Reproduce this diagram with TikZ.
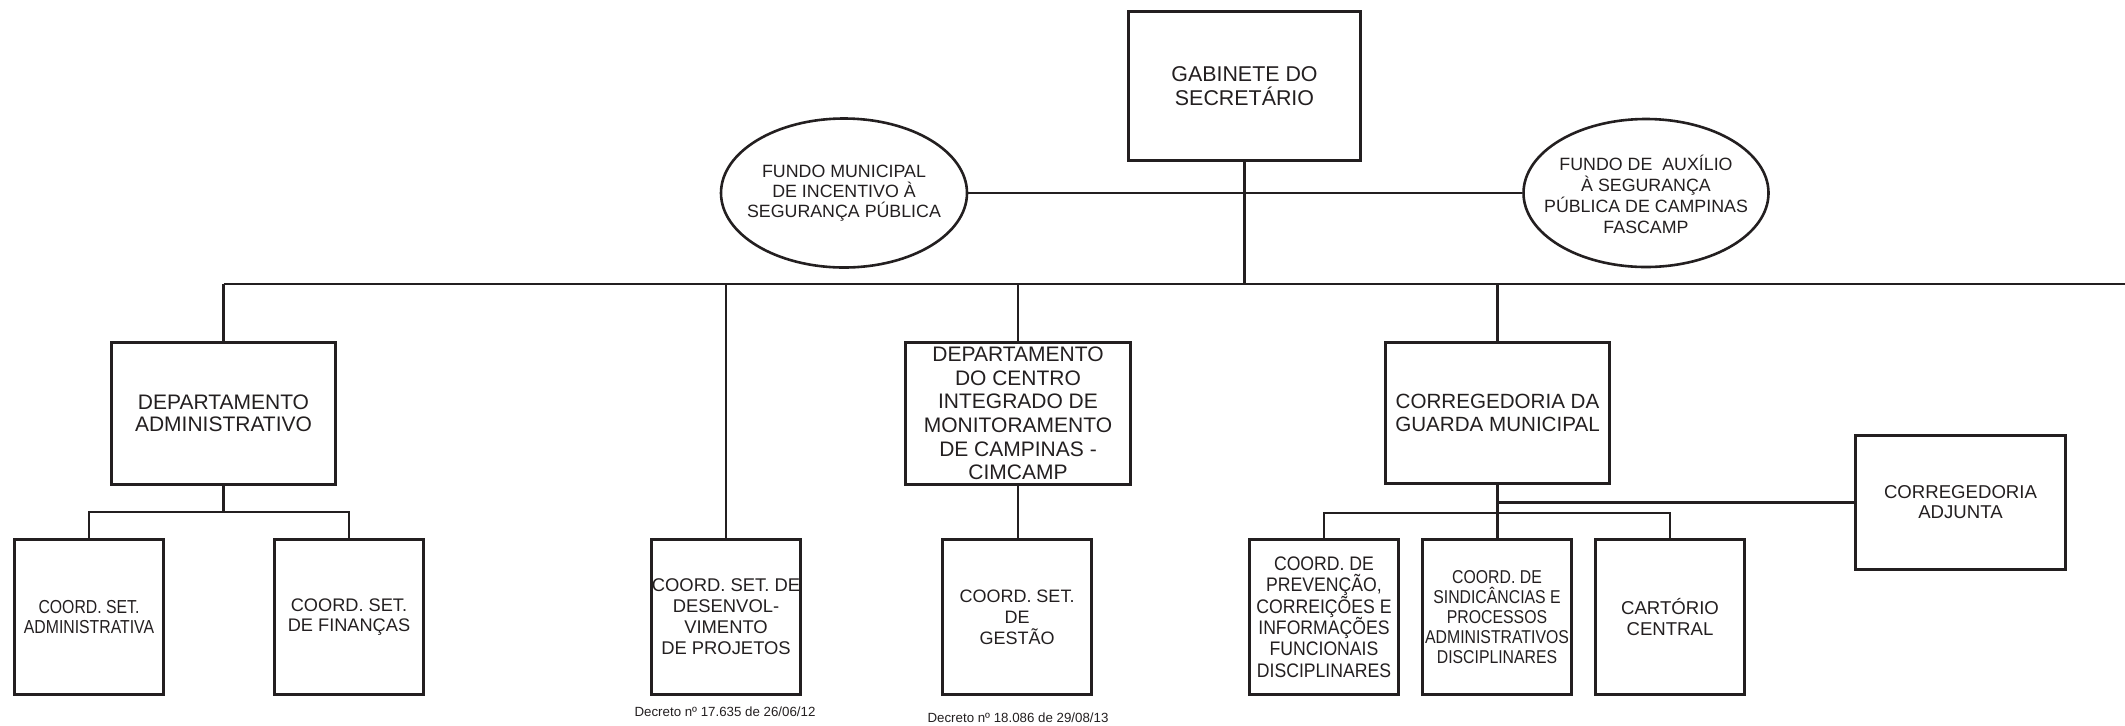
\documentclass[tikz,border=0pt]{standalone}
\usepackage{fontspec}
\setmainfont{Liberation Sans}
\newfontfamily\nfA[FakeStretch=0.84]{Liberation Sans}
\newfontfamily\nfB[FakeStretch=0.9]{Liberation Sans}
\newfontfamily\nfC[FakeStretch=0.85]{Liberation Sans}
\usetikzlibrary{shapes.geometric}
\definecolor{ink}{HTML}{231F20}
\begin{document}
\begin{tikzpicture}[x=0.5pt,y=-0.5pt,
  box/.style={draw=ink,line width=1.4pt,inner sep=0pt,align=center,text=ink},
  bot/.style={minimum width=74.5pt,minimum height=77.5pt},
  oval/.style={ellipse,draw=ink,line width=1.3pt,inner sep=0pt},
  otext/.style={align=center,text=ink,inner sep=0pt},
  link/.style={draw=ink,line width=1.2pt},
  note/.style={text=ink,inner sep=0pt,font=\fontsize{6.65}{8}\selectfont}]
\useasboundingbox (0,0) rectangle (2125,725);

% top level
\node[box,minimum width=116pt,minimum height=74.5pt,font=\fontsize{10.7}{12}\selectfont] (gab) at (1244.5,86) {GABINETE DO\\SECRETÁRIO};
\node[oval,minimum width=123pt,minimum height=74.5pt] (fmi) at (844,193) {};
\node[otext,font=\fontsize{8.9}{10}\selectfont] (fmit) at (fmi.center) {FUNDO MUNICIPAL\\DE INCENTIVO À\\SEGURANÇA PÚBLICA};
\node[oval,minimum width=122.5pt,minimum height=74pt] (fas) at (1646,193) {};
\node[otext,font=\fontsize{8.9}{10.35}\selectfont] (fast) at ([yshift=-0.7pt]fas.center) {FUNDO DE\ \ AUXÍLIO\\À SEGURANÇA\\PÚBLICA DE CAMPINAS\\FASCAMP};

% departments
\node[box,minimum width=112pt,minimum height=71pt,font=\fontsize{10.5}{11.2}\selectfont] (adm) at (223.5,413.5) {DEPARTAMENTO\\ADMINISTRATIVO};
\node[box,minimum width=112.5pt,minimum height=71pt,font=\fontsize{10.5}{11.85}\selectfont] (cim) at (1018,413.5) {DEPARTAMENTO\\DO CENTRO\\INTEGRADO DE\\MONITORAMENTO\\DE CAMPINAS -\\CIMCAMP};
\node[box,minimum width=112pt,minimum height=70.5pt,font=\fontsize{10.3}{11.7}\selectfont] (cor) at (1497.5,413) {CORREGEDORIA DA\\GUARDA MUNICIPAL};
\node[box,minimum width=105pt,minimum height=67pt,font=\fontsize{9.3}{10}\selectfont] (adj) at (1960.5,502.5) {CORREGEDORIA\\ADJUNTA};

% bottom row
\node[box,bot,font=\nfA\fontsize{9.4}{10}\selectfont] (csa) at (89,617) {COORD. SET.\\ADMINISTRATIVA};
\node[box,bot,font=\fontsize{9.1}{10}\selectfont] (csf) at (349,617) {COORD. SET.\\DE FINANÇAS};
\node[box,bot,font=\fontsize{9.2}{10.45}\selectfont] (csd) at (726,617) {COORD. SET. DE\\DESENVOL-\\VIMENTO\\DE PROJETOS};
\node[box,bot,font=\fontsize{9}{10.4}\selectfont] (csg) at (1017,617) {COORD. SET.\\DE\\GESTÃO};
\node[box,bot,font=\nfB\fontsize{9.8}{10.7}\selectfont] (cpv) at (1324,617) {COORD. DE\\PREVENÇÃO,\\CORREIÇÕES E\\INFORMAÇÕES\\FUNCIONAIS\\DISCIPLINARES};
\node[box,bot,font=\nfC\fontsize{9.3}{10}\selectfont] (csi) at (1497,617) {COORD. DE\\SINDICÂNCIAS E\\PROCESSOS\\ADMINISTRATIVOS\\DISCIPLINARES};
\node[box,bot,font=\fontsize{9.3}{10.5}\selectfont] (cart) at (1670,617) {CARTÓRIO\\CENTRAL};

% notes
\node[note] (dec1) at (725,712) {Decreto nº 17.635 de 26/06/12};
\node[note] (dec2) at (1018,718) {Decreto nº 18.086 de 29/08/13};

% connectors
\coordinate (bus) at (0,284);
\coordinate (busR) at (2125,284);
\coordinate (admj) at (0,512);
\coordinate (corj) at (0,513);
\draw[link] (adm.north |- bus) -- (busR);
\draw[link] (gab.south) -- (gab.south |- bus);
\draw[link] (fmi.east) -- (fas.west);
\draw[link] (adm.north) -- (adm.north |- bus);
\draw[link] (csd.north) -- (csd.north |- bus);
\draw[link] (cim.north) -- (cim.north |- bus);
\draw[link] (cor.north) -- (cor.north |- bus);
\draw[link] (adm.south) -- (adm.south |- admj);
\draw[link] (csa.north) -- (csa.north |- admj) -| (csf.north);
\draw[link] (cim.south) -- (cim.south |- csg.north);
\draw[link] (cor.south) -- (cor.south |- csi.north);
\draw[link] (adj.west) -- (adj.west -| cor.south);
\draw[link] (cpv.north) -- (cpv.north |- corj) -| (cart.north);
\end{tikzpicture}
\end{document}
